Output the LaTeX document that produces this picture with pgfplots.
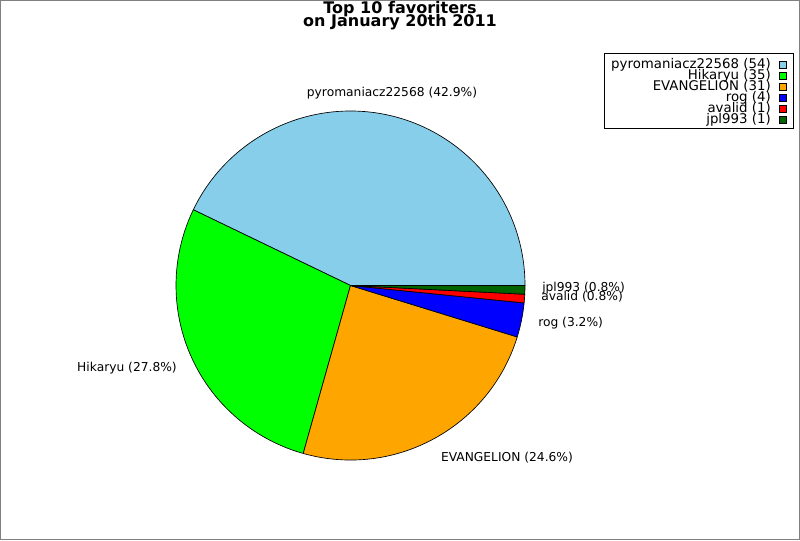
\documentclass[border=0pt]{standalone}
\usepackage{pgfplots}
\pgfplotsset{compat=1.18}
\usepackage{fontspec}
\setmainfont{DejaVu Sans}
\definecolor{cA}{RGB}{135,206,235}
\definecolor{cB}{RGB}{0,255,0}
\definecolor{cC}{RGB}{255,165,0}
\definecolor{cD}{RGB}{0,0,255}
\definecolor{cE}{RGB}{255,0,0}
\definecolor{cF}{RGB}{0,100,0}
% data: favourites per user
\def\vA{54}\def\vB{35}\def\vC{31}\def\vD{4}\def\vE{1}\def\vF{1}
\pgfmathsetmacro\tot{\vA+\vB+\vC+\vD+\vE+\vF}
\pgfmathsetmacro\aA{\vA/\tot*360}
\pgfmathsetmacro\aB{\aA+\vB/\tot*360}
\pgfmathsetmacro\aC{\aB+\vC/\tot*360}
\pgfmathsetmacro\aD{\aC+\vD/\tot*360}
\pgfmathsetmacro\aE{\aD+\vE/\tot*360}
\def\R{130.875pt}
\begin{document}
\begin{tikzpicture}
\begin{axis}[hide axis, scale only axis, x=0.75pt, y=0.75pt,
  xmin=0, xmax=800, ymin=0, ymax=540, clip=false]
\addplot[draw=none, forget plot] coordinates {(0,0) (800,540)};
\draw[gray, line width=0.75pt] (axis cs:0.5,0.5) rectangle (axis cs:799.5,539.5);
\newcommand\slice[3]{%
  \filldraw[fill=#1, draw=black, line width=0.5pt, line join=round]
    (axis cs:350.5,254.5) -- ++(#2:\R) arc[start angle=#2, end angle=#3, radius=\R] -- cycle;}
\slice{cA}{0}{\aA}
\slice{cB}{\aA}{\aB}
\slice{cC}{\aB}{\aC}
\slice{cD}{\aC}{\aD}
\slice{cE}{\aD}{\aE}
\slice{cF}{\aE}{360}
\begin{scope}[font=\fontsize{9.2}{10}\selectfont, inner sep=0pt]
\node at (axis cs:392,447) {pyromaniacz22568 (42.9\%)};
\node at (axis cs:127,172) {Hikaryu (27.8\%)};
\node at (axis cs:507,82) {EVANGELION (24.6\%)};
\node[anchor=west] at (axis cs:538,217) {rog (3.2\%)};
\node[anchor=west] at (axis cs:541,243) {avalid (0.8\%)};
\node[anchor=west] at (axis cs:542,252) {jpl993 (0.8\%)};
\end{scope}
\begin{scope}[font=\bfseries\fontsize{12}{12}\selectfont, inner sep=0pt]
\node[anchor=base] at (axis cs:400,526.5) {Top 10 favoriters};
\node[anchor=base] at (axis cs:400,513.5) {on January 20th 2011};
\end{scope}
\draw[black, line width=0.75pt] (axis cs:604,486) rectangle (axis cs:793,411);
\begin{scope}[font=\fontsize{10}{10}\selectfont, inner sep=0pt]
\node[anchor=east] at (axis cs:771,475.5) {pyromaniacz22568 (54)};
\node[anchor=east] at (axis cs:771,464.5) {Hikaryu (35)};
\node[anchor=east] at (axis cs:771,453.5) {EVANGELION (31)};
\node[anchor=east] at (axis cs:771,442.5) {rog (4)};
\node[anchor=east] at (axis cs:771,431.5) {avalid (1)};
\node[anchor=east] at (axis cs:771,420.5) {jpl993 (1)};
\end{scope}
\foreach \c/\yy in {cA/475.5,cB/464.5,cC/453.5,cD/442.5,cE/431.5,cF/420.5}{
  \edef\tmp{\noexpand\filldraw[fill=\c, draw=black, line width=0.5pt] (axis cs:779,\yy-3.5) rectangle (axis cs:786,\yy+3.5);}\tmp}
\end{axis}
\end{tikzpicture}
\end{document}
